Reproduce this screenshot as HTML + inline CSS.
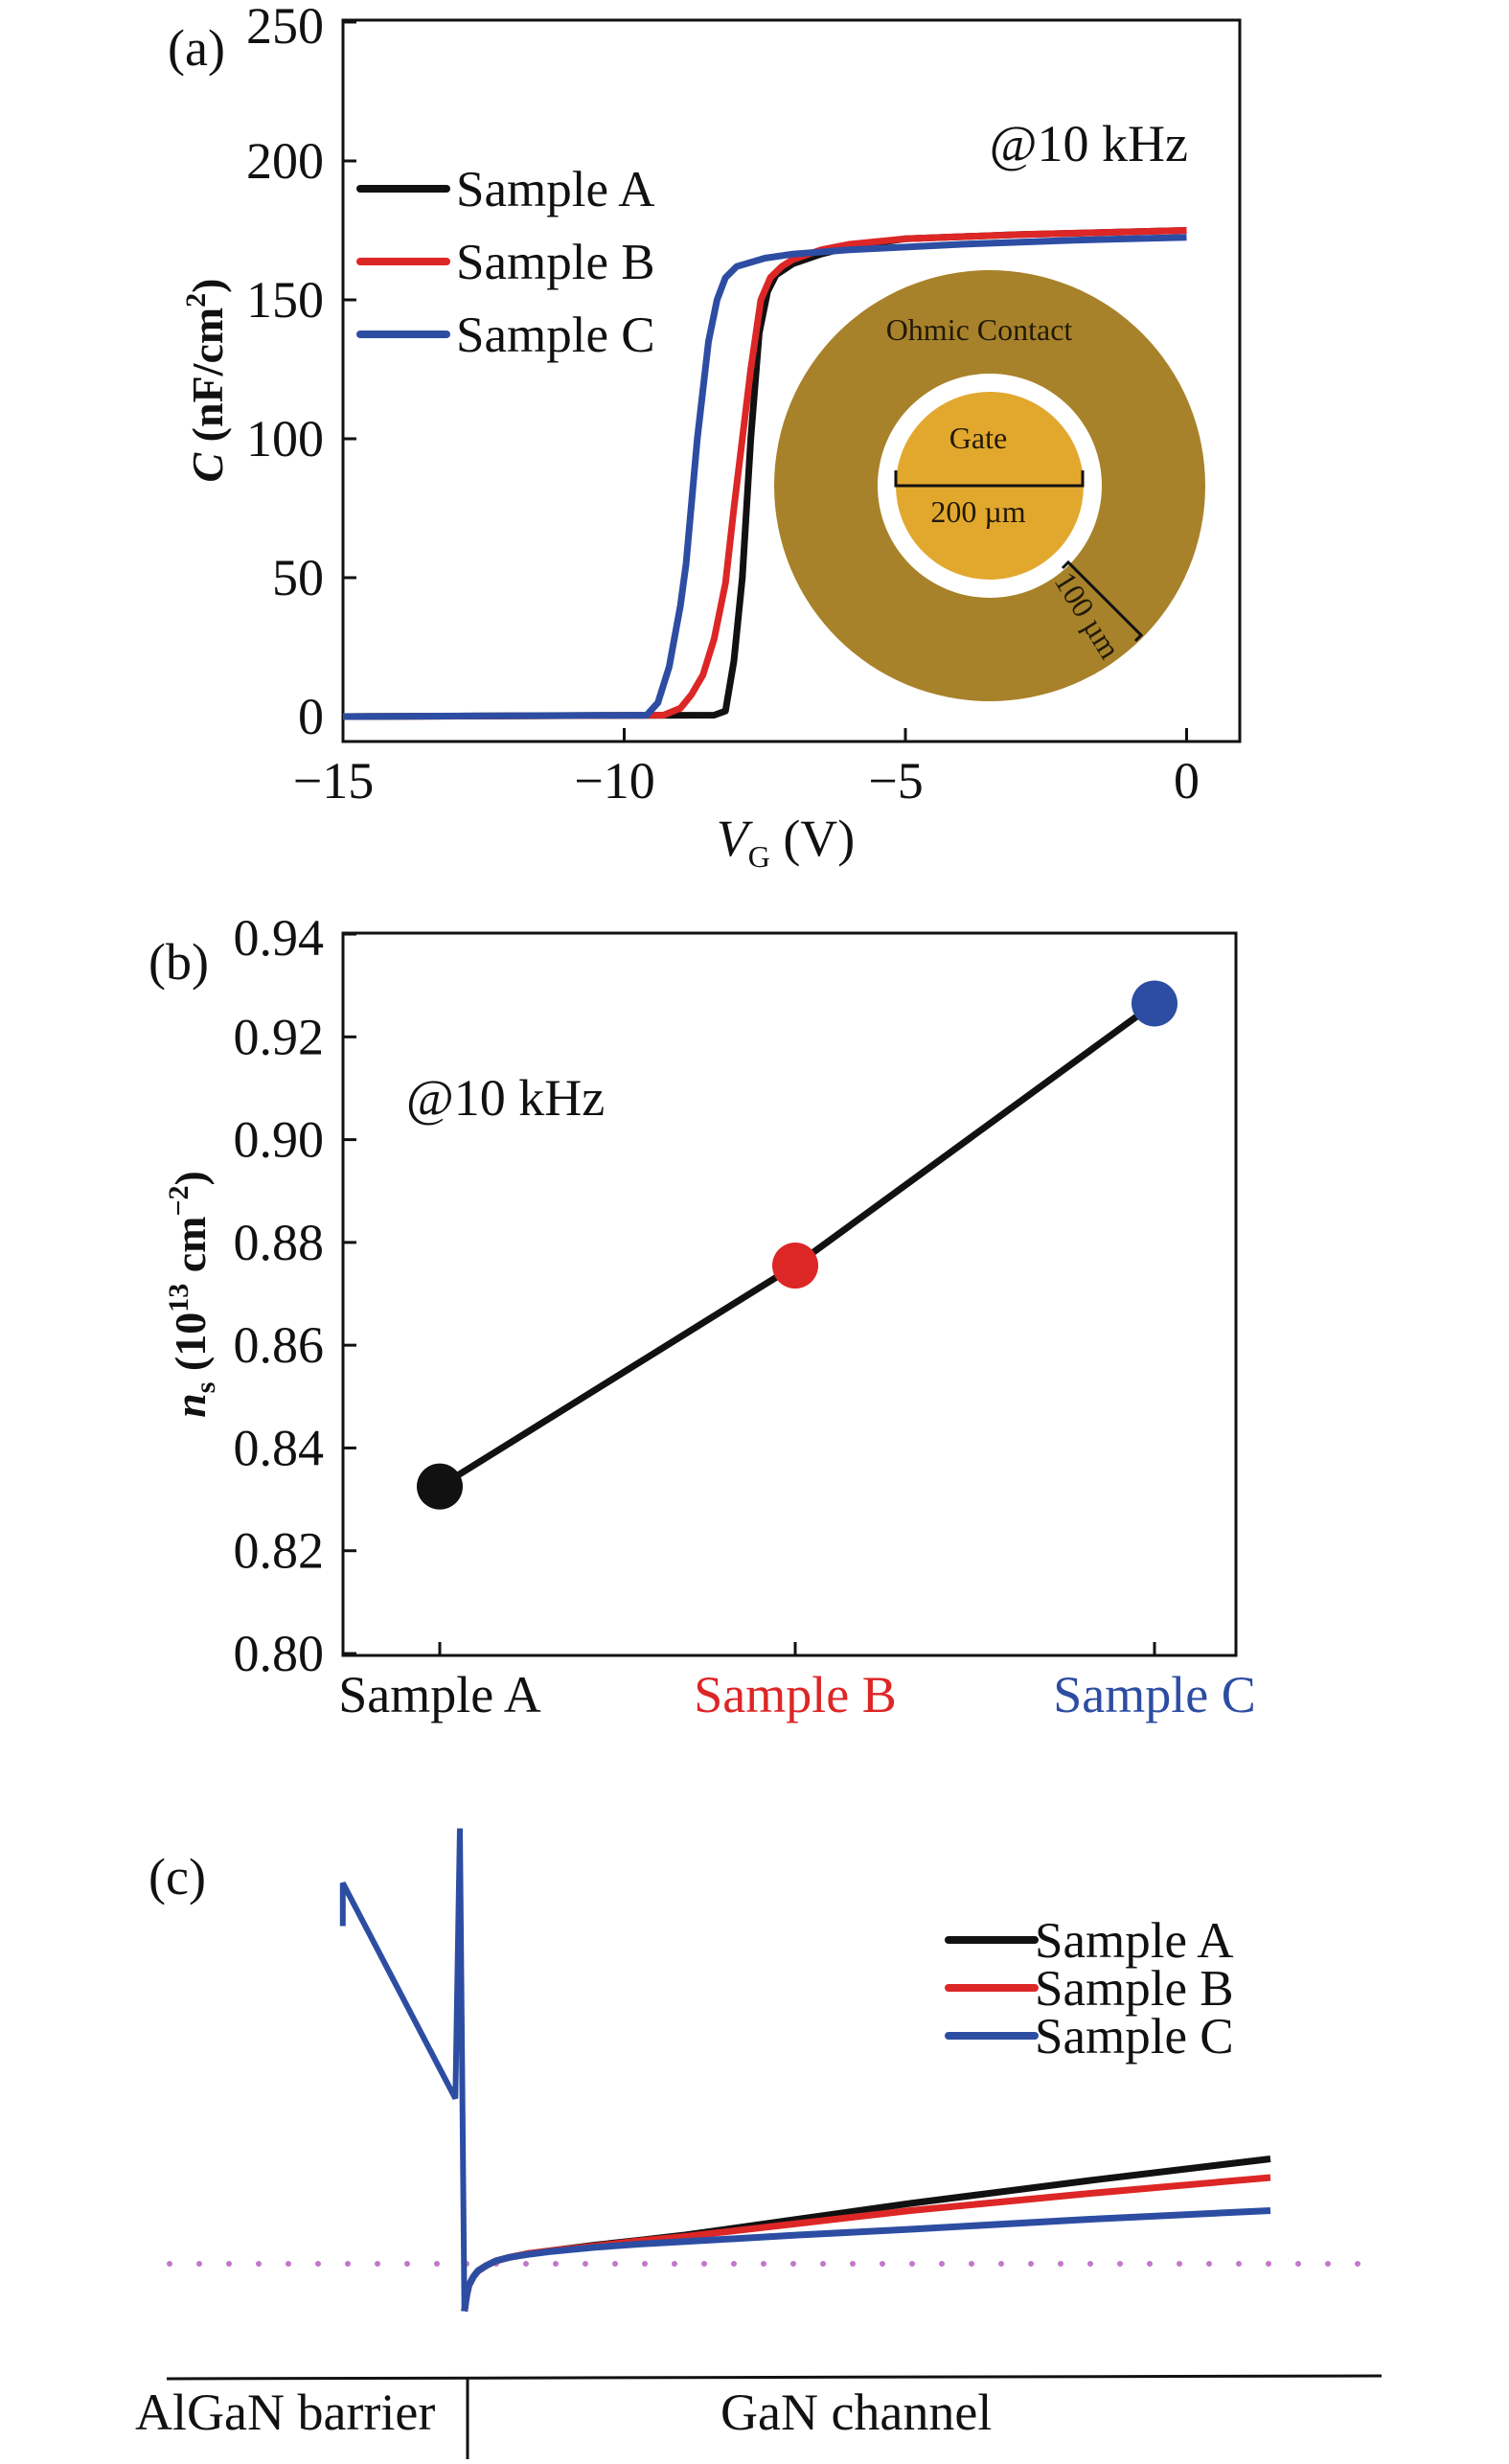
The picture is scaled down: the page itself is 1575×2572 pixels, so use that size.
<!DOCTYPE html>
<html><head><meta charset="utf-8"><style>
html,body{margin:0;padding:0;background:#fff;}
svg{display:block;font-family:"Liberation Serif",serif;}
</style></head><body>
<svg id="fig" width="1575" height="2572" viewBox="0 0 1575 2572" xmlns="http://www.w3.org/2000/svg">
<g id="pa"></g>
<g id="pb"></g>
<g id="pc"></g>
</svg>
<script>
// ---------- Panel (a) data ----------
const aXTicks = [-15, -10, -5, 0];
const aYTicks = [0, 50, 100, 150, 200, 250];
const vA = [-15, -8.4, -8.2, -8.05, -7.9, -7.75, -7.6, -7.45, -7.3, -7.0, -6.5, -6, -5, -3, 0];
const cA = [0, 0.5, 2, 20, 50, 100, 138, 153, 159, 163, 166.5, 169, 172, 173.5, 175];
const vB = [-15, -9.3, -9.0, -8.8, -8.6, -8.4, -8.2, -8.05, -7.9, -7.75, -7.57, -7.4, -7.2, -7.0, -6.5, -6, -5, -3, 0];
const cB = [0, 0.5, 3, 8, 15, 28, 48, 75, 100, 125, 150, 158, 162, 164.5, 168, 170, 172, 173.5, 175];
const vC = [-15, -9.6, -9.4, -9.2, -9.0, -8.9, -8.7, -8.5, -8.35, -8.2, -8.0, -7.5, -7, -6, -4, -2, 0];
const cC = [0, 0.5, 5, 18, 40, 55, 100, 135, 150, 158, 162, 165, 166.5, 168, 170, 171.5, 172.5];
const aLegend = ["Sample A", "Sample B", "Sample C"];
// ---------- Panel (b) data ----------
const bCategories = ["Sample A", "Sample B", "Sample C"];
const bValues = [0.8325, 0.8755, 0.9265];
const bYTicks = ["0.80", "0.82", "0.84", "0.86", "0.88", "0.90", "0.92", "0.94"];
// ---------- Panel (c) data ----------
const cBarrierDepth = [-26, -26, -1, 0, 1];
const cBarrierE = [2.35, 2.65, 1.15, 3.03, -0.33];
const cDepth = [1, 1.5, 2, 3, 4, 6, 8, 11, 15, 20, 30, 40, 50, 75, 100, 140, 180];
const cEA = [-0.33, -0.22, -0.15, -0.09, -0.05, -0.01, 0.02, 0.045, 0.07, 0.09, 0.13, 0.165, 0.2, 0.31, 0.42, 0.58, 0.73];
const cEB = [-0.33, -0.22, -0.15, -0.09, -0.05, -0.01, 0.02, 0.045, 0.07, 0.09, 0.125, 0.16, 0.19, 0.28, 0.37, 0.49, 0.6];
const cEC = [-0.33, -0.22, -0.15, -0.09, -0.05, -0.01, 0.02, 0.045, 0.065, 0.085, 0.115, 0.137, 0.155, 0.2, 0.24, 0.31, 0.37];

const NS = "http://www.w3.org/2000/svg";
const COL = ["#111111", "#dd2626", "#2d4da3"];
function mk(parent, tag, attrs, text) {
  const e = document.createElementNS(NS, tag);
  for (const k in attrs) e.setAttribute(k, attrs[k]);
  if (text !== undefined) e.textContent = text;
  parent.appendChild(e);
  return e;
}
function pathD(xs, ys, fx, fy) {
  return xs.map((x, i) => (i ? "L" : "M") + fx(x).toFixed(1) + "," + fy(ys[i]).toFixed(1)).join(" ");
}

// ===== Panel (a) =====
(function () {
  const g = document.getElementById("pa");
  const xS = v => 358 + (v + 15) * 58.7;
  const yS = c => 748 - c * 2.9;
  const box = mk(g, "rect", {x: 358, y: 21, width: 936, height: 753, fill: "none", stroke: "#111", "stroke-width": 3});
  
  
  aXTicks.forEach(t => {
    const l = mk(g, "line", {x1: xS(t), x2: xS(t), y1: 774, y2: 760, stroke: "#111", "stroke-width": 3});
    
    
    const tx = mk(g, "text", {x: xS(t) - (t < 0 ? 10 : 0), y: 833, "font-size": 54, "text-anchor": "middle", fill: "#111"}, (t < 0 ? "\u2212" + (-t) : t));
    
    
  });
  aYTicks.forEach(t => {
    const l = mk(g, "line", {x1: 358, x2: 372, y1: yS(t), y2: yS(t), stroke: "#111", "stroke-width": 3});
    
    
    const tx = mk(g, "text", {x: 338, y: yS(t) + (t === 250 ? 22 : 18), "font-size": 54, "text-anchor": "end", fill: "#111"}, t);
    
    
  });
  const ins = mk(g, "g", {});
  
  
  mk(ins, "circle", {cx: 1033, cy: 507, r: 225, fill: "#a8822a"});
  mk(ins, "circle", {cx: 1033, cy: 507, r: 117, fill: "#ffffff"});
  mk(ins, "circle", {cx: 1033, cy: 507, r: 98, fill: "#e2a82e"});
  mk(ins, "path", {d: "M935,491 V507 H1130 V491", fill: "none", stroke: "#111", "stroke-width": 3});
  mk(ins, "path", {d: "M1109,593 L1115,587 L1191,663 L1185,669", fill: "none", stroke: "#111", "stroke-width": 3});
  mk(ins, "text", {x: 1022, y: 355, "font-size": 32, "text-anchor": "middle", fill: "#221a08"}, "Ohmic Contact");
  mk(ins, "text", {x: 1021, y: 468, "font-size": 32, "text-anchor": "middle", fill: "#221a08"}, "Gate");
  mk(ins, "text", {x: 1021, y: 545, "font-size": 32, "text-anchor": "middle", fill: "#221a08"}, "200 \u00b5m");
  mk(ins, "text", {x: 0, y: 0, "font-size": 32, "text-anchor": "middle", fill: "#221a08", transform: "translate(1126,648) rotate(58)"}, "100 \u00b5m");
  [[vA, cA], [vB, cB], [vC, cC]].forEach((s, i) => {
    const p = mk(g, "path", {d: pathD(s[0], s[1], xS, yS), fill: "none", stroke: COL[i], "stroke-width": 7, "stroke-linejoin": "round"});
    
    
  });
  aLegend.forEach((n, i) => {
    const y = 197 + i * 76;
    const l = mk(g, "line", {x1: 376, x2: 466, y1: y, y2: y, stroke: COL[i], "stroke-width": 8, "stroke-linecap": "round"});
    
    
    const t = mk(g, "text", {x: 476, y: y + 18, "font-size": 53, fill: "#111"}, n);
    
    
  });
  const f = mk(g, "text", {x: 1240, y: 168, "font-size": 54, "text-anchor": "end", fill: "#111"}, "@10 kHz");
  
  
  const pl = mk(g, "text", {x: 175, y: 68, "font-size": 54, fill: "#111"}, "(a)");
  
  
  const yt = mk(g, "text", {x: 0, y: 0, "font-size": 46, "font-weight": "bold", "text-anchor": "middle", fill: "#111", transform: "translate(232,397) rotate(-90)"});
  yt.innerHTML = '<tspan font-style="italic">C</tspan> (nF/cm<tspan dy="-18" font-size="30">2</tspan><tspan dy="18">)</tspan>';
  
  
  const xt = mk(g, "text", {x: 820, y: 893, "font-size": 54, "text-anchor": "middle", fill: "#111"});
  xt.innerHTML = '<tspan font-style="italic">V</tspan><tspan font-size="32" dy="12">G</tspan><tspan dy="-12"> (V)</tspan>';
  
  
})();

// ===== Panel (b) =====
(function () {
  const g = document.getElementById("pb");
  const xPos = [459, 830, 1205];
  const yS = v => 1726 - (v - 0.80) * 5364;
  const box = mk(g, "rect", {x: 358, y: 974, width: 932, height: 754, fill: "none", stroke: "#111", "stroke-width": 3});
  
  
  bYTicks.forEach(t => {
    const y = yS(parseFloat(t));
    const l = mk(g, "line", {x1: 358, x2: 372, y1: y, y2: y, stroke: "#111", "stroke-width": 3});
    
    
    const tx = mk(g, "text", {x: 338, y: y + (t === "0.94" ? 22 : 18), "font-size": 54, "text-anchor": "end", fill: "#111"}, t);
    
    
  });
  bCategories.forEach((c, i) => {
    const l = mk(g, "line", {x1: xPos[i], x2: xPos[i], y1: 1728, y2: 1714, stroke: "#111", "stroke-width": 3});
    
    
    const t = mk(g, "text", {x: xPos[i], y: 1787, "font-size": 54, "text-anchor": "middle", fill: COL[i]}, c);
    
    
  });
  const ln = mk(g, "path", {d: pathD(xPos, bValues, x => x, yS), fill: "none", stroke: "#111", "stroke-width": 7});
  
  
  bValues.forEach((v, i) => {
    const c = mk(g, "circle", {cx: xPos[i], cy: yS(v), r: 24, fill: COL[i]});
    
    
  });
  const f = mk(g, "text", {x: 424, y: 1164, "font-size": 54, fill: "#111"}, "@10 kHz");
  
  
  const pl = mk(g, "text", {x: 155, y: 1022, "font-size": 54, fill: "#111"}, "(b)");
  
  
  const yt = mk(g, "text", {x: 0, y: 0, "font-size": 46, "font-weight": "bold", "text-anchor": "middle", fill: "#111", transform: "translate(214,1351) rotate(-90)"});
  yt.innerHTML = '<tspan font-style="italic">n</tspan><tspan font-size="30" dy="10">s</tspan><tspan dy="-10"> (10</tspan><tspan dy="-18" font-size="30">13</tspan><tspan dy="18"> cm</tspan><tspan dy="-18" font-size="30">\u22122</tspan><tspan dy="18">)</tspan>';
  
  
})();

// ===== Panel (c) =====
(function () {
  const g = document.getElementById("pc");
  const xS = d => 480 + d * 4.7;
  const yS = e => 2363 - e * 150;
  const pl = mk(g, "text", {x: 155, y: 1977, "font-size": 54, fill: "#111"}, "(c)");
  
  
  const fl = mk(g, "line", {x1: 177, x2: 1440, y1: 2363, y2: 2363, stroke: "#c278c8", "stroke-width": 6, "stroke-dasharray": "0 31", "stroke-linecap": "round"});
  
  
  [cEA, cEB, cEC].forEach((e, i) => {
    const p = mk(g, "path", {d: pathD(cDepth, e, xS, yS), fill: "none", stroke: COL[i], "stroke-width": 7, "stroke-linejoin": "round"});
    
    
  });
  const bp = mk(g, "path", {d: pathD(cBarrierDepth, cBarrierE, xS, yS), fill: "none", stroke: COL[2], "stroke-width": 6, "stroke-linejoin": "miter"});
  
  
  aLegend.forEach((n, i) => {
    const y = 2025 + i * 50;
    const l = mk(g, "line", {x1: 990, x2: 1080, y1: y, y2: y, stroke: COL[i], "stroke-width": 8, "stroke-linecap": "round"});
    
    
    const t = mk(g, "text", {x: 1080, y: y + 18, "font-size": 53, fill: "#111"}, n);
    
    
  });
  const ax = mk(g, "line", {x1: 174, x2: 1442, y1: 2483, y2: 2480, stroke: "#111", "stroke-width": 3});
  
  
  const dv = mk(g, "line", {x1: 488, x2: 488, y1: 2483, y2: 2567, stroke: "#111", "stroke-width": 3});
  
  
  const t1 = mk(g, "text", {x: 141, y: 2536, "font-size": 54, fill: "#111"}, "AlGaN barrier");
  
  
  const t2 = mk(g, "text", {x: 752, y: 2536, "font-size": 54, fill: "#111"}, "GaN channel");
  
  
})();
</script>
</body></html>
